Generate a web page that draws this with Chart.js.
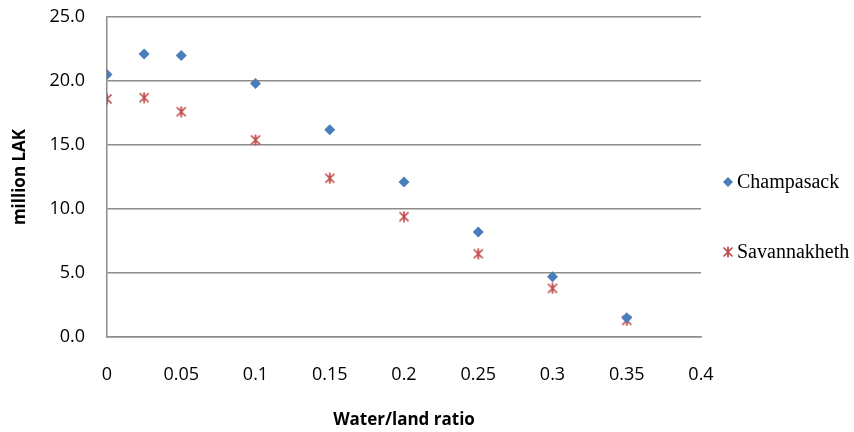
<!DOCTYPE html>
<html>
<head>
<meta charset="utf-8">
<script src="https://cdn.jsdelivr.net/npm/chart.js@4.4.1/dist/chart.umd.min.js"></script>
<style>
  html, body { margin: 0; padding: 0; background: #fff; }
  #wrap { width: 854px; height: 432px; }
</style>
</head>
<body>
<div id="wrap"><canvas id="waterChart"></canvas></div>
<script>
const ratios = [0, 0.025, 0.05, 0.1, 0.15, 0.2, 0.25, 0.3, 0.35];
const champasack = [20.5, 22.1, 22.0, 19.8, 16.2, 12.1, 8.2, 4.7, 1.5];
const savannakheth = [18.6, 18.7, 17.6, 15.4, 12.4, 9.4, 6.5, 3.8, 1.3];

const BLUE = '#4A7EBB';
const RED = '#BE4B48';
const GRID = '#8C8C8C';

// excel style star marker: an x with a vertical bar
function makeStar(size) {
    const c = document.createElement('canvas');
    c.width = size;
    c.height = size;
    const g = c.getContext('2d');
    g.strokeStyle = RED;
    g.lineWidth = 1.7;
    const m = 1.5, e = size - 1.5;
    g.beginPath();
    g.moveTo(m, m); g.lineTo(e, e);
    g.moveTo(e, m); g.lineTo(m, e);
    g.moveTo(size / 2, 0.5); g.lineTo(size / 2, size - 0.5);
    g.stroke();
    return c;
}
const starMarker = makeStar(12);

function toPoints(values) {
    return values.map((v, i) => ({ x: ratios[i], y: v }));
}

// legend on the right, spaced like the excel original
const sideLegend = {
    id: 'sideLegend',
    afterDraw(chart) {
        const c = chart.ctx;
        const area = chart.chartArea;
        const x = area.right + 27;
        const rows = [area.top + 165, area.top + 235];
        c.save();
        c.font = '20px "Liberation Serif"';
        c.textBaseline = 'middle';
        chart.data.datasets.forEach((ds, i) => {
            const y = rows[i];
            c.fillStyle = ds.backgroundColor;
            c.strokeStyle = ds.borderColor;
            Chart.helpers.drawPoint(c, {
                pointStyle: ds.pointStyle,
                radius: 5,
                borderWidth: 0
            }, x, y);
            c.fillStyle = '#000';
            c.fillText(ds.label, x + 9, y + 1);
        });
        c.restore();
    }
};

const ctx = document.getElementById('waterChart').getContext('2d');
new Chart(ctx, {
    type: 'scatter',
    data: {
        datasets: [{
            label: 'Champasack',
            data: toPoints(champasack),
            pointStyle: 'rectRot',
            pointRadius: 5.5,
            pointHoverRadius: 5.5,
            backgroundColor: BLUE,
            borderColor: BLUE,
            borderWidth: 0
        }, {
            label: 'Savannakheth',
            data: toPoints(savannakheth),
            pointStyle: starMarker,
            pointRadius: 5.5,
            backgroundColor: RED,
            borderColor: RED
        }]
    },
    options: {
        responsive: true,
        maintainAspectRatio: false,
        animation: false,
        layout: {
            padding: { top: 17, right: 153, bottom: 2, left: 8 }
        },
        plugins: {
            tooltip: { enabled: false },
            legend: { display: false }
        },
        scales: {
            x: {
                type: 'linear',
                min: 0,
                max: 0.4,
                grid: { display: false, drawTicks: false },
                border: { display: true, color: GRID, width: 1.5 },
                ticks: {
                    stepSize: 0.05,
                    padding: 27,
                    color: '#000',
                    font: { family: 'Open Sans', size: 18 },
                    callback: function(value) {
                        return String(Number(value.toFixed(2)));
                    }
                },
                title: {
                    display: true,
                    text: 'Water/land ratio',
                    color: '#000',
                    font: { family: 'Open Sans', size: 17, weight: 'bold' },
                    padding: { top: -3, bottom: 0 }
                }
            },
            y: {
                min: 0,
                max: 25,
                grid: { color: GRID, lineWidth: 1.5, drawTicks: false },
                border: { display: true, color: GRID, width: 1.5 },
                ticks: {
                    stepSize: 5,
                    padding: 22,
                    color: '#000',
                    font: { family: 'Open Sans', size: 18 },
                    callback: function(value) {
                        return value.toFixed(1);
                    }
                },
                title: {
                    display: true,
                    text: 'million LAK',
                    color: '#000',
                    font: { family: 'Open Sans', size: 17, weight: 'bold' },
                    padding: { top: 2, bottom: -3 }
                },
                afterFit: function(scale) {
                    // top label may hang into the layout padding
                    scale.paddingTop = 0;
                }
            }
        }
    },
    plugins: [sideLegend]
});
</script>
</body>
</html>
